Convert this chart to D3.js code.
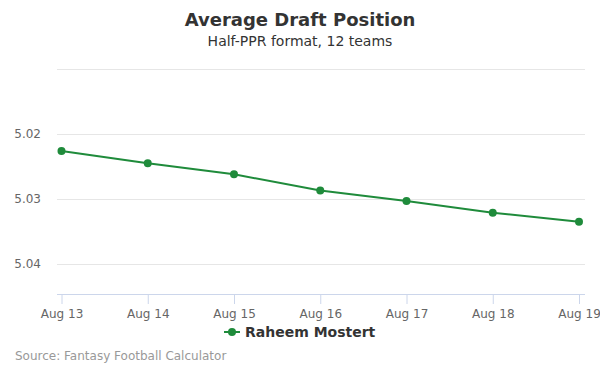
<!DOCTYPE html>
<html>
<head>
<meta charset="utf-8">
<script src="https://cdn.jsdelivr.net/npm/d3@7"></script>
<style>
  body { margin: 0; background: #fff; }
  svg { font-family: "DejaVu Sans", sans-serif; display: block; }
</style>
</head>
<body>
<div class="viz"></div>
<script>
const width = 600;
const height = 375;

// data
const dates = ["Aug 13", "Aug 14", "Aug 15", "Aug 16", "Aug 17", "Aug 18", "Aug 19"];
const adp = [5.0226, 5.0245, 5.0262, 5.0287, 5.0303, 5.0321, 5.0335];
const yTicks = [5.01, 5.02, 5.03, 5.04];
const seriesName = "Raheem Mostert";
const color = "#1f8b3b";

const plot = { left: 57, right: 585, top: 69, bottom: 294 };

const svg = d3.select(".viz").append("svg")
  .attr("width", width)
  .attr("height", height);

const xScale = d3.scalePoint()
  .domain(dates)
  .range([61.5, 579]);

// reversed: lower ADP sits higher
const yScale = d3.scaleLinear()
  .domain([5.01, 5.04])
  .range([plot.top, plot.top + 195]);

// gridlines
svg.append("g")
  .selectAll("line")
  .data(yTicks)
  .join("line")
  .attr("x1", plot.left)
  .attr("x2", plot.right)
  .attr("y1", (d) => Math.round(yScale(d)) + 0.5)
  .attr("y2", (d) => Math.round(yScale(d)) + 0.5)
  .attr("stroke", "#e6e6e6");

// y labels (top one hidden like the reference)
svg.append("g")
  .selectAll("text")
  .data(yTicks.slice(1))
  .join("text")
  .attr("x", 41)
  .attr("y", (d) => yScale(d) + 4)
  .attr("text-anchor", "end")
  .attr("font-size", 12)
  .attr("fill", "#666")
  .text((d) => d3.format(".2f")(d));

// x axis
const xAxis = svg.append("g")
  .attr("transform", `translate(0, ${plot.bottom})`)
  .call(d3.axisBottom(xScale).tickSize(10).tickPadding(5));
xAxis.select(".domain").remove();
xAxis.append("line")
  .attr("x1", plot.left)
  .attr("x2", plot.right)
  .attr("y1", 0.5)
  .attr("y2", 0.5)
  .attr("stroke", "#ccd6eb");
xAxis.selectAll(".tick line").attr("stroke", "#ccd6eb");
xAxis.selectAll(".tick text")
  .attr("font-size", 12)
  .attr("font-family", "DejaVu Sans, sans-serif")
  .attr("fill", "#666");

// series
const line = d3.line()
  .x((d, i) => xScale(dates[i]))
  .y((d) => yScale(d));

svg.append("path")
  .datum(adp)
  .attr("d", line)
  .attr("fill", "none")
  .attr("stroke", color)
  .attr("stroke-width", 2);

svg.append("g")
  .selectAll("circle")
  .data(adp)
  .join("circle")
  .attr("cx", (d, i) => xScale(dates[i]))
  .attr("cy", (d) => yScale(d))
  .attr("r", 4)
  .attr("fill", color);

// titles
svg.append("text")
  .attr("x", width / 2)
  .attr("y", 26)
  .attr("text-anchor", "middle")
  .attr("font-size", 18)
  .attr("font-weight", "bold")
  .attr("fill", "#333")
  .text("Average Draft Position");

svg.append("text")
  .attr("x", width / 2)
  .attr("y", 46)
  .attr("text-anchor", "middle")
  .attr("font-size", 14)
  .attr("fill", "#333")
  .text("Half-PPR format, 12 teams");

// legend
const legend = svg.append("g").attr("transform", "translate(224, 332)");
legend.append("line")
  .attr("x1", 0).attr("x2", 16)
  .attr("stroke", color).attr("stroke-width", 2);
legend.append("circle")
  .attr("cx", 8).attr("r", 4).attr("fill", color);
legend.append("text")
  .attr("x", 21)
  .attr("y", 5)
  .attr("font-size", 14)
  .attr("font-weight", "bold")
  .attr("fill", "#333")
  .text(seriesName);

// credits
svg.append("text")
  .attr("x", 15)
  .attr("y", 360)
  .attr("font-size", 12)
  .attr("fill", "#999")
  .text("Source: Fantasy Football Calculator");
</script>
</body>
</html>
